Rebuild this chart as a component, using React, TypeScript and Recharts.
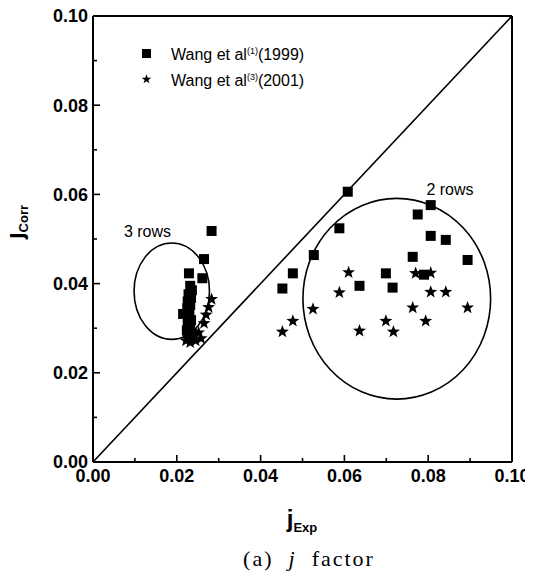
import { ScatterChart, Scatter, XAxis, YAxis, ReferenceLine, ReferenceArea, ReferenceDot } from 'recharts'

// tick values on both axes (every 0.01, labels every 0.02)
const axisTicks = [0, 0.01, 0.02, 0.03, 0.04, 0.05, 0.06, 0.07, 0.08, 0.09, 0.1]

// Wang et al (1) 1999 — squares
const jExp1999 = [
  0.0452, 0.0477, 0.0527, 0.0588, 0.0608, 0.0636, 0.0699, 0.0715, 0.0763, 0.0775, 0.079, 0.0806, 0.0806, 0.0842, 0.0894,
  0.0283, 0.0265, 0.0229, 0.0261, 0.0232, 0.0236, 0.0228, 0.0234, 0.0226, 0.0232, 0.0225, 0.023, 0.0215, 0.0228, 0.0234,
  0.0226, 0.0232, 0.0224, 0.0236, 0.0228,
]
const jCorr1999 = [
  0.0389, 0.0423, 0.0464, 0.0524, 0.0606, 0.0395, 0.0423, 0.0391, 0.046, 0.0555, 0.042, 0.0576, 0.0507, 0.0498, 0.0453,
  0.0518, 0.0455, 0.0423, 0.0412, 0.0395, 0.0385, 0.0376, 0.0368, 0.036, 0.0352, 0.0345, 0.0338, 0.0332, 0.0325, 0.0318,
  0.031, 0.0302, 0.0295, 0.0288, 0.0282,
]

// Wang et al (3) 2001 — stars
const jExp2001 = [
  0.0452, 0.0477, 0.0525, 0.0588, 0.061, 0.0636, 0.0699, 0.0717, 0.0763, 0.077, 0.0794, 0.0806, 0.0806, 0.0842, 0.0894,
  0.0283, 0.0276, 0.027, 0.0265, 0.0252, 0.024, 0.0222, 0.0232, 0.0245, 0.0258, 0.0228,
]
const jCorr2001 = [
  0.0292, 0.0316, 0.0343, 0.038, 0.0425, 0.0294, 0.0316, 0.0292, 0.0346, 0.0423, 0.0316, 0.0424, 0.0381, 0.0381, 0.0346,
  0.0365, 0.0347, 0.033, 0.0311, 0.029, 0.0282, 0.0272, 0.0268, 0.0272, 0.0277, 0.028,
]

// grouping ellipses: [centreX, centreY, radiusX, radiusY]
const threeRows = [0.0188, 0.0383, 0.009, 0.0108]
const twoRows = [0.0725, 0.0366, 0.0224, 0.0225]

const data1999 = jExp1999.map((x, i) => ({ x, y: jCorr1999[i] }))
const data2001 = jExp2001.map((x, i) => ({ x, y: jCorr2001[i] }))

const FONT = '"Liberation Sans", Arial, sans-serif'

function isMajor(v: number) {
  return Math.round(v * 100) % 2 === 0
}

function BottomTick({ x, y, payload }: any) {
  const len = isMajor(payload.value) ? 7 : 4
  return (
    <g>
      <line x1={x} x2={x} y1={y} y2={y - len} stroke="#000" strokeWidth={1.6} />
      {isMajor(payload.value) && (
        <text x={x} y={y + 20} textAnchor="middle" fontFamily={FONT} fontWeight="bold" fontSize={18} fill="#000">
          {payload.value.toFixed(2)}
        </text>
      )}
    </g>
  )
}

function TopTick({ x, y, payload }: any) {
  const len = isMajor(payload.value) ? 7 : 4
  return <line x1={x} x2={x} y1={y} y2={y + len} stroke="#000" strokeWidth={1.6} />
}

function LeftTick({ x, y, payload }: any) {
  const len = isMajor(payload.value) ? 7 : 4
  return (
    <g>
      <line x1={x} x2={x + len} y1={y} y2={y} stroke="#000" strokeWidth={1.6} />
      {isMajor(payload.value) && (
        <text x={x - 5} y={y} dy="0.36em" textAnchor="end" fontFamily={FONT} fontWeight="bold" fontSize={18} fill="#000">
          {payload.value.toFixed(2)}
        </text>
      )}
    </g>
  )
}

function RightTick({ x, y, payload }: any) {
  const len = isMajor(payload.value) ? 7 : 4
  return <line x1={x} x2={x - len} y1={y} y2={y} stroke="#000" strokeWidth={1.6} />
}

function SquareMark({ cx, cy }: any) {
  return <rect x={cx - 5} y={cy - 5} width={10} height={10} fill="#000" />
}

function starPoints(cx: number, cy: number, ro: number, ri: number) {
  const pts: string[] = []
  for (let k = 0; k < 10; k++) {
    const r = k % 2 === 0 ? ro : ri
    const a = -Math.PI / 2 + (k * Math.PI) / 5
    pts.push(`${cx + r * Math.cos(a)},${cy + r * Math.sin(a)}`)
  }
  return pts.join(' ')
}

function StarMark({ cx, cy }: any) {
  return <polygon points={starPoints(cx, cy, 6.8, 2.8)} fill="#000" />
}

function ellipseShape(p: any) {
  return (
    <ellipse
      cx={p.x + p.width / 2}
      cy={p.y + p.height / 2}
      rx={p.width / 2}
      ry={p.height / 2}
      fill="none"
      stroke="#000"
      strokeWidth={1.6}
    />
  )
}

function noteShape(text: string) {
  return (p: any) => (
    <text x={p.cx} y={p.cy} dy="0.35em" textAnchor="middle" fontFamily={FONT} fontSize={16} fill="#000">
      {text}
    </text>
  )
}

export default function App() {
  return (
    <div style={{ position: 'relative', width: 525, height: 576, background: '#fff' }}>
      {/* pulled up 8px so the top tick label is not clipped by the svg edge */}
      <div style={{ marginTop: -8 }}>
        <ScatterChart width={525} height={538} margin={{ top: 12, right: 11, bottom: 0, left: 0 }}>
          <XAxis
            xAxisId="b"
            type="number"
            dataKey="x"
            domain={[0, 0.1]}
            ticks={axisTicks}
            interval={0}
            height={76}
            tickSize={0}
            tickMargin={0}
            tickLine={false}
            axisLine={{ stroke: '#000', strokeWidth: 2 }}
            tick={BottomTick}
            allowDataOverflow
          />
          <XAxis
            xAxisId="t"
            orientation="top"
            type="number"
            dataKey="x"
            domain={[0, 0.1]}
            ticks={axisTicks}
            interval={0}
            height={4}
            tickSize={0}
            tickMargin={0}
            tickLine={false}
            axisLine={{ stroke: '#000', strokeWidth: 2 }}
            tick={TopTick}
          />
          <YAxis
            yAxisId="l"
            type="number"
            dataKey="y"
            domain={[0, 0.1]}
            ticks={axisTicks}
            interval={0}
            width={85}
            tickSize={0}
            tickMargin={0}
            tickLine={false}
            axisLine={{ stroke: '#000', strokeWidth: 2 }}
            tick={LeftTick}
            allowDataOverflow
          />
          <YAxis
            yAxisId="r"
            orientation="right"
            type="number"
            dataKey="y"
            domain={[0, 0.1]}
            ticks={axisTicks}
            interval={0}
            width={10}
            tickSize={0}
            tickMargin={0}
            tickLine={false}
            axisLine={{ stroke: '#000', strokeWidth: 2 }}
            tick={RightTick}
          />
          <ReferenceLine
            xAxisId="b"
            yAxisId="l"
            segment={[{ x: 0, y: 0 }, { x: 0.1, y: 0.1 }]}
            stroke="#000"
            strokeWidth={1.6}
          />
          {[threeRows, twoRows].map((e, i) => (
            <ReferenceArea
              key={i}
              xAxisId="b"
              yAxisId="l"
              x1={e[0] - e[2]}
              x2={e[0] + e[2]}
              y1={e[1] - e[3]}
              y2={e[1] + e[3]}
              shape={ellipseShape}
              ifOverflow="visible"
            />
          ))}
          <ReferenceDot xAxisId="b" yAxisId="l" x={0.013} y={0.0518} r={0} shape={noteShape('3 rows')} ifOverflow="visible" />
          <ReferenceDot xAxisId="b" yAxisId="l" x={0.0852} y={0.0612} r={0} shape={noteShape('2 rows')} ifOverflow="visible" />
          <Scatter xAxisId="b" yAxisId="l" data={data1999} shape={SquareMark} isAnimationActive={false} />
          <Scatter xAxisId="b" yAxisId="l" data={data2001} shape={StarMark} isAnimationActive={false} />
        </ScatterChart>
      </div>

      {/* legend */}
      <div style={{ position: 'absolute', left: 134, top: 40, fontFamily: FONT, fontSize: 16, color: '#000', lineHeight: '23px' }}>
        <div style={{ display: 'flex', alignItems: 'center' }}>
          <span style={{ display: 'inline-block', width: 9, height: 9, background: '#000', marginRight: 20 }} />
          <span>
            Wang et al<sup style={{ fontSize: 9 }}>(1)</sup>(1999)
          </span>
        </div>
        <div style={{ display: 'flex', alignItems: 'center' }}>
          <svg width={9} height={10} style={{ marginRight: 20 }}>
            <polygon points={starPoints(4.5, 5.3, 5, 2)} fill="#000" />
          </svg>
          <span>
            Wang et al<sup style={{ fontSize: 9 }}>(3)</sup>(2001)
          </span>
        </div>
      </div>

      {/* y axis label */}
      <div
        style={{
          position: 'absolute',
          left: 8,
          top: 222,
          transform: 'translate(-50%, -50%) rotate(-90deg)',
          whiteSpace: 'nowrap',
          fontFamily: FONT,
          fontWeight: 'bold',
          color: '#000',
        }}
      >
        <span style={{ fontSize: 24 }}>j</span>
        <sub style={{ fontSize: 13 }}>Corr</sub>
      </div>

      {/* x axis label */}
      <div
        style={{
          position: 'absolute',
          left: 294,
          top: 520,
          transform: 'translate(-50%, -50%)',
          whiteSpace: 'nowrap',
          fontFamily: FONT,
          fontWeight: 'bold',
          color: '#000',
        }}
      >
        <span style={{ fontSize: 24 }}>j</span>
        <sub style={{ fontSize: 13 }}>Exp</sub>
      </div>

      {/* caption */}
      <div
        style={{
          position: 'absolute',
          left: 301,
          top: 559,
          transform: 'translate(-50%, -50%)',
          whiteSpace: 'pre',
          fontFamily: '"Liberation Serif", serif',
          fontSize: 22,
          letterSpacing: 2,
          color: '#000',
        }}
      >
        {'(a)  '}
        <i>j</i>
        {'  factor'}
      </div>
    </div>
  )
}
